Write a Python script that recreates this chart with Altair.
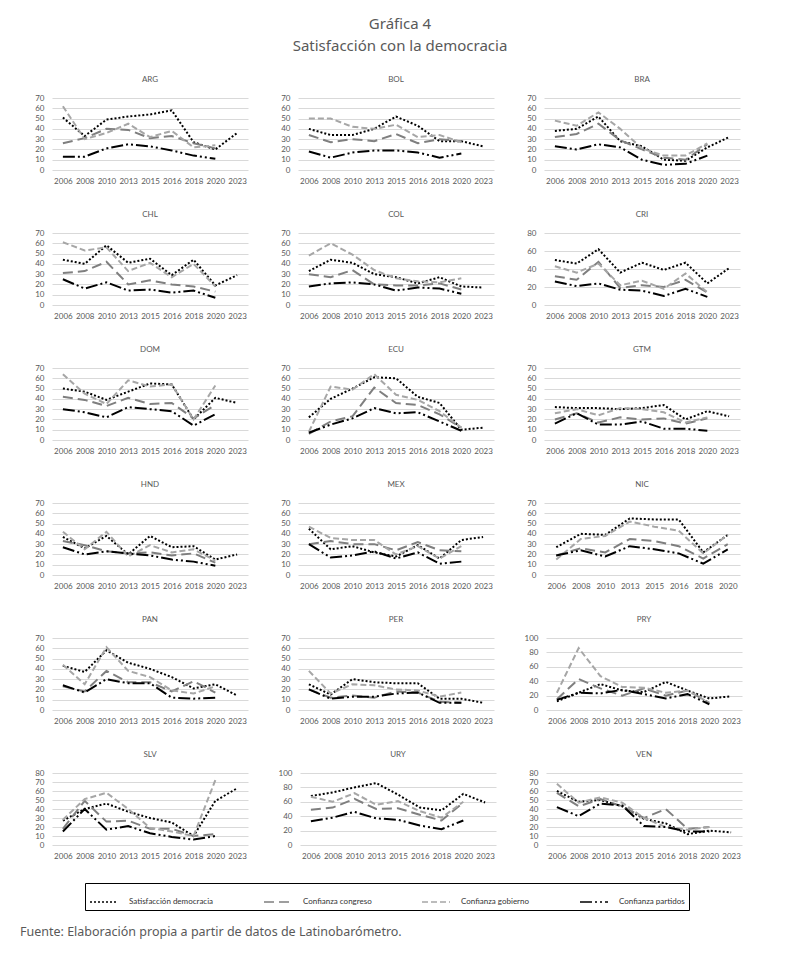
import altair as alt
import pandas as pd

countries = ["ARG", "BOL", "BRA", "CHL", "COL", "CRI", "DOM", "ECU", "GTM",
             "HND", "MEX", "NIC", "PAN", "PER", "PRY", "SLV", "URY", "VEN"]
years = ["2006", "2008", "2010", "2013", "2015", "2016", "2018", "2020", "2023"]
series_names = ["Satisfacción democracia", "Confianza congreso",
                "Confianza gobierno", "Confianza partidos"]

sat = {
    "ARG": [51, 33, 49, 52, 54, 58, 27, 20, 36],
    "BOL": [40, 34, 34, 40, 52, 43, 28, 28, 23],
    "BRA": [38, 40, 52, 28, 23, 10, 9, 22, 32],
    "CHL": [44, 40, 58, 41, 45, 29, 44, 19, 29],
    "COL": [33, 44, 41, 30, 27, 21, 27, 18, 17],
    "CRI": [50, 46, 62, 36, 47, 39, 47, 24, 41],
    "DOM": [50, 47, 39, 47, 55, 54, 20, 41, 36],
    "ECU": [22, 40, 50, 61, 60, 42, 36, 10, 12],
    "GTM": [32, 31, 31, 30, 31, 34, 20, 28, 23],
    "HND": [37, 26, 38, 20, 38, 27, 28, 15, 20],
    "MEX": [45, 25, 28, 22, 18, 29, 16, 34, 37],
    "NIC": [27, 40, 39, 55, 54, 54, 22, 39],
    "PAN": [43, 37, 58, 46, 40, 32, 21, 25, 14],
    "PER": [25, 15, 30, 27, 26, 26, 11, 11, 7],
    "PRY": [12, 24, 36, 27, 25, 39, 27, 16, 19],
    "SLV": [27, 40, 46, 37, 30, 25, 10, 49, 63],
    "URY": [68, 73, 80, 86, 70, 52, 48, 71, 59],
    "VEN": [60, 48, 50, 43, 29, 24, 12, 16, 14],
}
congreso = {
    "ARG": [26, 31, 40, 39, 31, 33, 26, 21],
    "BOL": [34, 27, 30, 28, 35, 26, 30, 28],
    "BRA": [32, 35, 45, 29, 20, 12, 10, 25],
    "CHL": [31, 33, 42, 20, 24, 20, 18, 13],
    "COL": [30, 27, 34, 20, 19, 19, 21, 15],
    "CRI": [32, 28, 48, 19, 22, 20, 28, 14],
    "DOM": [42, 39, 33, 41, 35, 36, 21, 34],
    "ECU": [6, 18, 23, 51, 36, 34, 25, 12],
    "GTM": [20, 26, 17, 22, 20, 21, 16, 21],
    "HND": [33, 29, 23, 21, 22, 19, 21, 12],
    "MEX": [30, 33, 30, 30, 24, 32, 24, 23],
    "NIC": [19, 26, 22, 35, 33, 28, 16, 30],
    "PAN": [23, 18, 38, 27, 27, 18, 28, 17],
    "PER": [20, 12, 14, 12, 18, 17, 8, 7],
    "PRY": [15, 43, 30, 20, 30, 20, 27, 10],
    "SLV": [18, 49, 26, 27, 18, 18, 10, 12],
    "URY": [49, 52, 64, 50, 51, 42, 34, 59],
    "VEN": [58, 43, 51, 43, 30, 40, 18, 20],
}
gobierno = {
    "ARG": [62, 30, 36, 45, 32, 38, 22, 24],
    "BOL": [50, 50, 42, 40, 44, 32, 34, 27],
    "BRA": [48, 43, 56, 40, 21, 14, 14, 26],
    "CHL": [61, 53, 56, 33, 41, 27, 40, 18],
    "COL": [48, 60, 49, 34, 26, 23, 22, 26],
    "CRI": [43, 36, 46, 22, 27, 18, 35, 14],
    "DOM": [64, 45, 35, 58, 52, 54, 20, 53],
    "ECU": [8, 52, 49, 64, 44, 39, 28, 12],
    "GTM": [26, 30, 24, 31, 30, 27, 17, 22],
    "HND": [42, 25, 42, 18, 29, 22, 25, 14],
    "MEX": [47, 36, 34, 34, 20, 28, 16, 28],
    "NIC": [15, 35, 38, 52, 47, 43, 21, 39],
    "PAN": [44, 25, 61, 38, 32, 19, 16, 23],
    "PER": [38, 16, 25, 24, 20, 19, 13, 17],
    "PRY": [24, 86, 47, 32, 31, 24, 27, 10],
    "SLV": [28, 51, 58, 40, 19, 15, 10, 72],
    "URY": [67, 60, 72, 56, 61, 47, 38, 60],
    "VEN": [68, 47, 53, 47, 30, 20, 17, 20],
}
partidos = {
    "ARG": [13, 13, 21, 25, 23, 19, 14, 11],
    "BOL": [18, 12, 17, 19, 19, 17, 12, 16],
    "BRA": [23, 20, 25, 22, 10, 5, 6, 14],
    "CHL": [25, 16, 22, 14, 15, 12, 14, 7],
    "COL": [18, 21, 22, 20, 14, 17, 16, 11],
    "CRI": [26, 21, 24, 17, 16, 10, 18, 9],
    "DOM": [30, 27, 22, 32, 30, 28, 14, 25],
    "ECU": [7, 15, 21, 31, 26, 27, 18, 9],
    "GTM": [16, 26, 15, 15, 18, 11, 11, 9],
    "HND": [27, 20, 23, 21, 19, 15, 13, 9],
    "MEX": [30, 17, 19, 23, 16, 22, 11, 13],
    "NIC": [19, 24, 18, 28, 25, 21, 11, 25],
    "PAN": [24, 17, 30, 26, 26, 12, 11, 12],
    "PER": [20, 11, 13, 13, 16, 17, 7, 7],
    "PRY": [14, 24, 23, 28, 22, 16, 22, 8],
    "SLV": [15, 40, 17, 21, 13, 9, 6, 10],
    "URY": [33, 38, 46, 37, 35, 27, 22, 34],
    "VEN": [42, 32, 46, 44, 21, 20, 15, 15],
}
y_max = {"CRI": 80, "PRY": 100, "SLV": 80, "URY": 100, "VEN": 80}
y_step = {"CRI": 20, "PRY": 20, "URY": 20}

title_lines = ["Gráfica 4", "Satisfacción con la democracia"]
fuente = "Fuente: Elaboración propia a partir de datos de Latinobarómetro."

rows = []
for c in countries:
    for name, src in zip(series_names, [sat, congreso, gobierno, partidos]):
        for y, v in zip(years, src[c]):
            rows.append({"country": c, "year": y, "series": name, "value": v})
df = pd.DataFrame(rows)

TXT = "#595959"
FONT = "Lato"

legend = alt.Legend(
    title=None, orient="none", legendX=33, legendY=785,
    direction="horizontal", columns=4, symbolType="stroke",
    symbolSize=784, symbolStrokeWidth=1.6, labelFontSize=8,
    labelColor="#333333", labelFont=FONT, labelOffset=10,
    columnPadding=46, padding=4, strokeColor="black",
)


def panel(c, first):
    d = df[df.country == c]
    yrs = years[:8] if c == "NIC" else years
    ymax = y_max.get(c, 70)
    step = y_step.get(c, 10)
    ext = 32 if first else 20
    return alt.Chart(
        d,
        title=alt.TitleParams(c, fontSize=8, color=TXT, font=FONT,
                              fontWeight="normal", offset=10),
    ).mark_line(strokeWidth=2).encode(
        x=alt.X("year:N", scale=alt.Scale(domain=yrs),
                axis=alt.Axis(title=None, labelAngle=0, domain=False,
                              ticks=False, grid=False, labelFontSize=8,
                              labelColor=TXT, labelFont=FONT, labelPadding=7)),
        y=alt.Y("value:Q", scale=alt.Scale(domain=[0, ymax], nice=False),
                axis=alt.Axis(title=None, values=list(range(0, ymax + 1, step)),
                              domain=False, ticks=False, gridColor="#d9d9d9",
                              labelFontSize=8, labelColor=TXT, labelFont=FONT,
                              labelPadding=8, minExtent=ext, maxExtent=ext)),
        color=alt.Color("series:N",
                        scale=alt.Scale(domain=series_names,
                                        range=["#000000", "#7f7f7f", "#a6a6a6", "#000000"]),
                        legend=legend),
        strokeDash=alt.StrokeDash("series:N",
                                  scale=alt.Scale(domain=series_names,
                                                  range=[[2, 2], [10, 5], [6, 3],
                                                         [12, 3, 2, 3, 2, 3]]),
                                  legend=legend),
        order=alt.Order("series:N"),
    ).properties(width=196, height=72)


grid_rows = []
for i in range(0, 18, 3):
    grid_rows.append(alt.hconcat(*[panel(c, j == 0) for j, c in enumerate(countries[i:i + 3])],
                                 spacing=30))

foot = alt.Chart(pd.DataFrame({"t": [fuente]})).mark_text(
    align="left", baseline="middle", fontSize=12.5, color=TXT, font="Noto Sans"
).encode(text="t:N", x=alt.value(-32), y=alt.value(46)).properties(width=700, height=54)

chart = alt.vconcat(
    *grid_rows, foot, spacing=26,
    title=alt.TitleParams(title_lines, fontSize=15, color=TXT, font="Noto Sans",
                          fontWeight="normal", anchor="middle", lineHeight=22,
                          offset=22, dx=14),
).properties(
    padding={"left": 12, "top": 9, "right": 5, "bottom": 5},
    background="white",
).configure_view(strokeWidth=0)

chart.save("out.html", embed_options={"renderer": "svg", "actions": False})
